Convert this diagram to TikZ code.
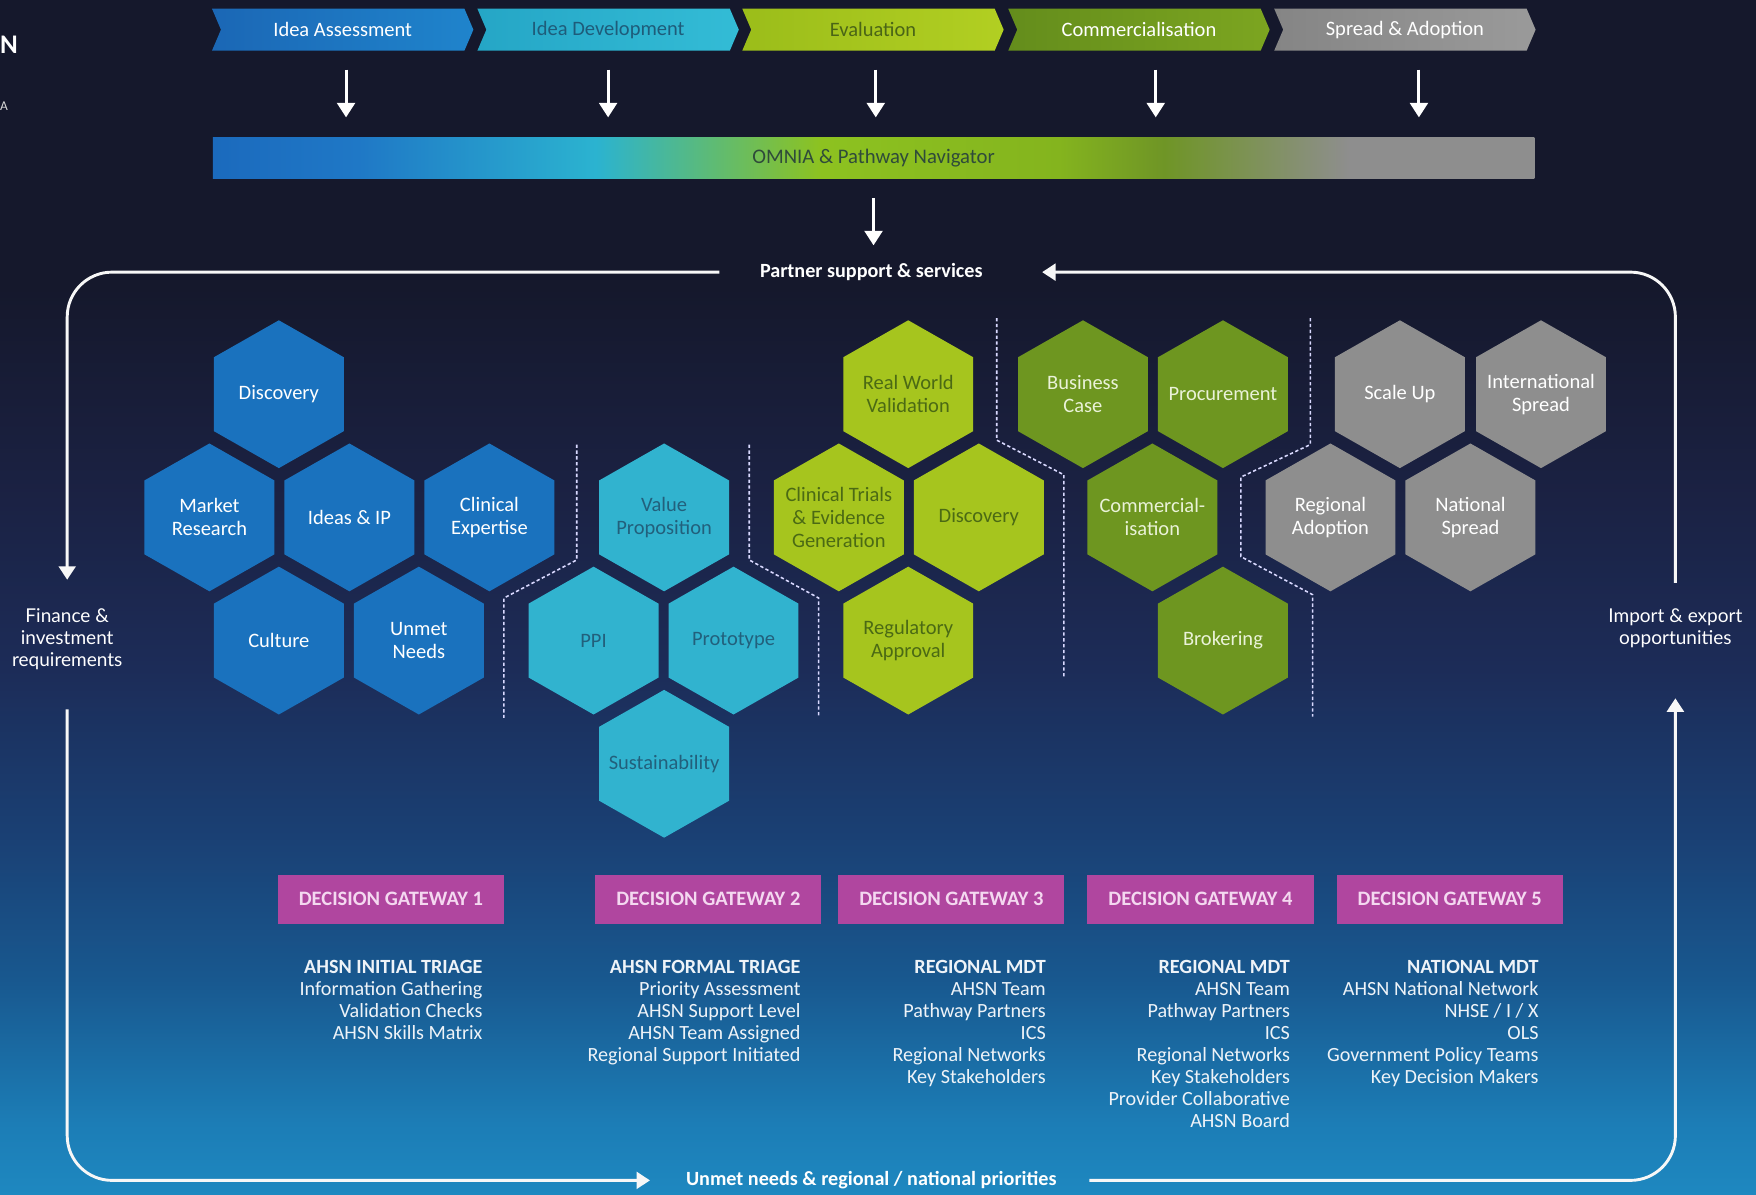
\documentclass[tikz,border=0pt]{standalone}
\usepackage{fontspec}
\setmainfont{Carlito}
\newfontfamily\sidefont{Lato}
\usetikzlibrary{arrows.meta,calc}
\pgfdeclarelayer{back}
\pgfsetlayers{back,main}

\definecolor{bgA}{HTML}{1E88C0}
\definecolor{bgB}{HTML}{1C7DB6}
\definecolor{bgC}{HTML}{18588F}
\definecolor{bgD}{HTML}{1A4074}
\definecolor{bgE}{HTML}{1C2C58}
\definecolor{bgF}{HTML}{1B2244}
\definecolor{bgG}{HTML}{15182C}
\definecolor{o1}{HTML}{1B6ABD}
\definecolor{o2}{HTML}{1F78C6}
\definecolor{o3}{HTML}{2BB3D0}
\definecolor{o4}{HTML}{8DC220}
\definecolor{o5}{HTML}{84B41E}
\definecolor{o6}{HTML}{6F9526}
\definecolor{o7}{HTML}{8E8E8E}
\definecolor{omtxt}{HTML}{2F4B3A}
\definecolor{hblue}{HTML}{1A72BE}
\definecolor{hcyan}{HTML}{31B3CF}
\definecolor{hlime}{HTML}{A6C51E}
\definecolor{holive}{HTML}{6E9620}
\definecolor{hgray}{HTML}{8E8E8E}
\definecolor{tcyan}{HTML}{22607C}
\definecolor{tlime}{HTML}{4B6A14}
\definecolor{tolive}{HTML}{EAF2D8}
\definecolor{gate}{HTML}{B0469F}
\definecolor{gatetxt}{HTML}{F4D8F0}
\definecolor{infotxt}{HTML}{EEF3F8}
\definecolor{chAl}{HTML}{1B67B5}\definecolor{chAr}{HTML}{1F84CC}
\definecolor{chBl}{HTML}{25A6C6}\definecolor{chBr}{HTML}{33BCD6}
\definecolor{chCl}{HTML}{9BBD1A}\definecolor{chCr}{HTML}{B2CF22}
\definecolor{chDl}{HTML}{648D1C}\definecolor{chDr}{HTML}{7CA520}
\definecolor{chEl}{HTML}{858585}\definecolor{chEr}{HTML}{9A9A9A}
\definecolor{tchB}{HTML}{1E5C7A}
\definecolor{tchC}{HTML}{4A6516}

\pgfdeclareverticalshading{bgshade}{100bp}{color(0bp)=(bgA); color(25bp)=(bgA); color(28bp)=(bgB); color(34bp)=(bgC); color(40bp)=(bgD); color(47bp)=(bgE); color(54bp)=(bgF); color(63bp)=(bgG); color(75bp)=(bgG); color(100bp)=(bgG)}
\pgfdeclarehorizontalshading{omnishade}{100bp}{color(0bp)=(o1); color(25bp)=(o1); color(30.5bp)=(o2); color(39.5bp)=(o3); color(48bp)=(o4); color(57bp)=(o5); color(61bp)=(o6); color(68bp)=(o7); color(75bp)=(o7); color(100bp)=(o7)}

\newcommand\hexa[5]{%
  \fill[#3] (#2) +(0,-66) -- +(58,-33) -- +(58,33) -- +(0,66) -- +(-58,33) -- +(-58,-33) -- cycle;
  \node[hextext, text=#4] (#1) at (#2) {#5};}

\tikzset{
  downarr/.style={draw=white, line width=2.6pt, -{Triangle[width=16pt,length=13pt]}},
  loopline/.style={draw=white!94!gray, line width=2.6pt, rounded corners=40pt, -{Triangle[width=15pt,length=12pt]}},
  chev/.style={minimum width=233pt, minimum height=37pt, inner sep=0pt, font=\fontsize{18.3}{20}\selectfont},
  hextext/.style={align=center, inner sep=0pt, font=\fontsize{18.3}{20.5}\selectfont},
  gatebox/.style={fill=gate, text=gatetxt, minimum width=202pt, minimum height=44pt, inner sep=0pt, font=\bfseries\fontsize{18.3}{20}\selectfont},
  info/.style={align=right, anchor=north east, inner sep=0pt, text=infotxt, font=\fontsize{18}{19.7}\selectfont},
  flowlbl/.style={text=white, inner sep=0pt, font=\bfseries\fontsize{18}{20}\selectfont},
  sidelbl/.style={text=white, align=center, inner sep=0pt, font=\sidefont\fontsize{17}{19.5}\selectfont},
  sepline/.style={draw=white!85!blue, line width=1.4pt, dash pattern=on 3pt off 2.2pt},
}

\begin{document}
\begin{tikzpicture}[x=1pt,y=-1pt]
\useasboundingbox (0,0) rectangle (1568,1067);
\begin{pgfonlayer}{back}
\shade[shading=bgshade] (0,0) rectangle (1568,1067);
\end{pgfonlayer}

% fragments at the left edge
\node[anchor=west, inner sep=0pt, text=white, font=\bfseries\fontsize{24}{24}\selectfont] (frag1) at (0,40) {N};
\node[anchor=west, inner sep=0pt, text=white!70!gray, font=\fontsize{12}{12}\selectfont] (frag2) at (0,95) {A};

% chevrons
\node[chev, text=white] (c1) at (306,26.5) {Idea Assessment};
\node[chev, text=tchB] (c2) at (543,26.5) {Idea Development};
\node[chev, text=tchC] (c3) at (779.5,26.5) {Evaluation};
\node[chev, text=white] (c4) at (1017,26.5) {Commercialisation};
\node[chev, text=white] (c5) at (1254.5,26.5) {Spread \& Adoption};
\begin{pgfonlayer}{back}
\foreach \c/\cl/\cr in {c1/chAl/chAr, c2/chBl/chBr, c3/chCl/chCr, c4/chDl/chDr, c5/chEl/chEr}
  \shade[left color=\cl, right color=\cr] (\c.north west) -- ([xshift=8pt]\c.west) -- (\c.south west) -- ([xshift=-8pt]\c.south east) -- (\c.east) -- ([xshift=-8pt]\c.north east) -- cycle;
\end{pgfonlayer}

% OMNIA bar
\node[shade, shading=omnishade, minimum width=1180pt, minimum height=36pt, inner sep=0pt, text=omtxt, font=\fontsize{18.5}{20}\selectfont] (omnia) at (780,141) {OMNIA \& Pathway Navigator};

\foreach \c/\dx in {c1/3, c2/0, c3/2.5, c4/15, c5/12.5}
  \draw[downarr, shorten <=17pt, shorten >=18pt] ($(\c.south)+(\dx,0)$) -- ($(\c.south |- omnia.north)+(\dx,0)$);

% loop labels
\node[flowlbl] (partner) at (778,243) {Partner support \& services};
\node[flowlbl] (unmet) at (778,1054) {Unmet needs \& regional / national priorities};
\node[sidelbl] (finance) at (60,571) {Finance \&\\investment\\requirements};
\node[sidelbl] (import) at (1496,561) {Import \& export\\opportunities};

\draw[downarr, shorten <=18pt, shorten >=16pt] (omnia.south) -- (omnia.south |- partner.north);

\draw[loopline, shorten <=36pt, shorten >=26pt] (partner.west) -| (finance.north);
\draw[loopline, shorten <=35pt, shorten >=32pt] (finance.south) |- (unmet.west);
\draw[loopline, shorten <=29pt, shorten >=45pt] (unmet.east) -| (import.south);
\draw[loopline, shorten <=23pt, shorten >=53pt] (import.north) |- (partner.east);

% hexagons - blue
\hexa{hb1}{249,352}{hblue}{white}{Discovery}
\hexa{hb2}{187,462}{hblue}{white}{Market\\Research}
\hexa{hb3}{312,462}{hblue}{white}{Ideas \& IP}
\hexa{hb4}{437,462}{hblue}{white}{Clinical\\Expertise}
\hexa{hb5}{249,572}{hblue}{white}{Culture}
\hexa{hb6}{374,572}{hblue}{white}{Unmet\\Needs}
% cyan
\hexa{hc1}{593,462}{hcyan}{tcyan}{Value\\Proposition}
\hexa{hc2}{530,572}{hcyan}{tcyan}{PPI}
\hexa{hc3}{655,572}{hcyan}{tcyan}{Prototype}
\hexa{hc4}{593,682}{hcyan}{tcyan}{Sustainability}
% lime
\hexa{hl1}{811,352}{hlime}{tlime}{Real World\\Validation}
\hexa{hl2}{749,462}{hlime}{tlime}{Clinical Trials\\\& Evidence\\Generation}
\hexa{hl3}{874,462}{hlime}{tlime}{Discovery}
\hexa{hl4}{811,572}{hlime}{tlime}{Regulatory\\Approval}
% olive
\hexa{ho1}{967,352}{holive}{tolive}{Business\\Case}
\hexa{ho2}{1092,352}{holive}{tolive}{Procurement}
\hexa{ho3}{1029,462}{holive}{tolive}{Commercial-\\isation}
\hexa{ho4}{1092,572}{holive}{tolive}{Brokering}
% gray
\hexa{hg1}{1250,352}{hgray}{white}{Scale Up}
\hexa{hg2}{1376,352}{hgray}{white}{International\\Spread}
\hexa{hg3}{1188,462}{hgray}{white}{Regional\\Adoption}
\hexa{hg4}{1313,462}{hgray}{white}{National\\Spread}

% separators
\draw[sepline] (515,397) -- (515,500) -- (450,534) -- (450,641);
\draw[sepline] (669,397) -- (669,500) -- (731,534) -- (731,641);
\draw[sepline] (890,284) -- (890,393) -- (950,424) -- (950,605);
\draw[sepline] (1170,284) -- (1170,397) -- (1108,426) -- (1108,497) -- (1172,531) -- (1172,640);

% decision gateways
\node[gatebox] (g1) at (349,803) {DECISION GATEWAY 1};
\node[gatebox] (g2) at (632.5,803) {DECISION GATEWAY 2};
\node[gatebox] (g3) at (849.5,803) {DECISION GATEWAY 3};
\node[gatebox] (g4) at (1072,803) {DECISION GATEWAY 4};
\node[gatebox] (g5) at (1294.5,803) {DECISION GATEWAY 5};

\node[info] (t1) at (431,857) {\textbf{AHSN INITIAL TRIAGE}\\Information Gathering\\Validation Checks\\AHSN Skills Matrix};
\node[info] (t2) at (715,857) {\textbf{AHSN FORMAL TRIAGE}\\Priority Assessment\\AHSN Support Level\\AHSN Team Assigned\\Regional Support Initiated};
\node[info] (t3) at (934,857) {\textbf{REGIONAL MDT}\\AHSN Team\\Pathway Partners\\ICS\\Regional Networks\\Key Stakeholders};
\node[info] (t4) at (1152,857) {\textbf{REGIONAL MDT}\\AHSN Team\\Pathway Partners\\ICS\\Regional Networks\\Key Stakeholders\\Provider Collaborative\\AHSN Board};
\node[info] (t5) at (1374,857) {\textbf{NATIONAL MDT}\\AHSN National Network\\NHSE / I / X\\OLS\\Government Policy Teams\\Key Decision Makers};
\end{tikzpicture}
\end{document}
